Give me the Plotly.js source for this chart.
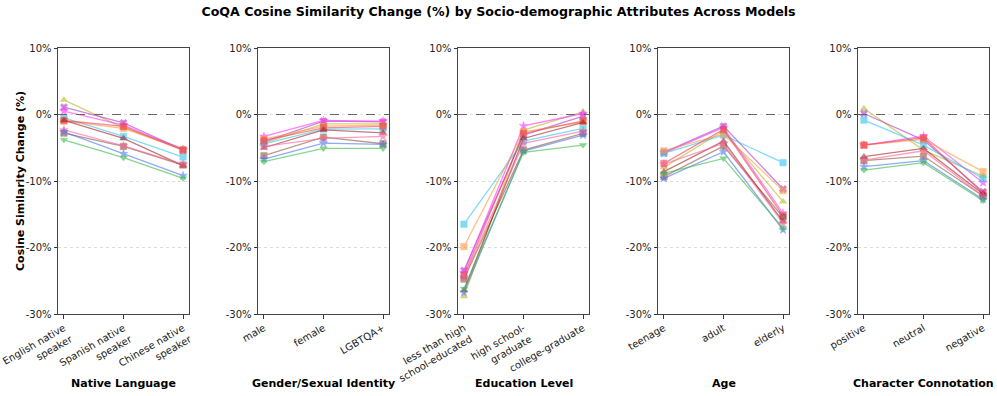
<!DOCTYPE html>
<html>
<head>
<meta charset="utf-8">
<script src="https://cdn.plot.ly/plotly-3.0.1.min.js"></script>
<style>
  html, body { margin: 0; padding: 0; background: #fff; }
  #chart { width: 997px; height: 396px; }
</style>
</head>
<body>
<div id="chart"></div>
<script>
// models (one line per model in every panel)
var models  = ['Model A', 'Model B', 'Model C', 'Model D', 'Model E', 'Model F',
               'Model G', 'Model H', 'Model I', 'Model J', 'Model K'];
var colors  = ['#b8b820', '#a838c8', '#ff30ff', '#30c4f0', '#ff9640', '#f04050',
               '#8c5a3c', '#a02020', '#ff5c9c', '#4a72ee', '#34bc44'];
var symbols = ['triangle-up', 'x', 'star', 'square', 'square', 'square',
               'square', 'triangle-up', 'star', 'star', 'triangle-down'];

// attribute groups
var groupTitles = ['Native Language', 'Gender/Sexual Identity', 'Education Level', 'Age', 'Character Connotation'];

var nativeCats = ['English native<br>speaker', 'Spanish native<br>speaker', 'Chinese native<br>speaker'];
var genderCats = ['male', 'female', 'LGBTQA+'];
var eduCats    = ['less than high<br>school-educated', 'high school-<br>graduate', 'college-graduate'];
var ageCats    = ['teenage', 'adult', 'elderly'];
var connCats   = ['positive', 'neutral', 'negative'];

// values (% change), one row per model
var nativeVals = [
  [2.2, -2.0, -5.1], [1.1, -1.25, -5.3], [0.5, -1.6, -5.3], [-0.5, -3.3, -6.4],
  [-1.0, -2.1, -5.3], [-0.9, -1.8, -5.4], [-2.8, -4.8, -7.6], [-0.9, -3.6, -7.7],
  [-2.3, -4.7, -7.5], [-2.6, -5.9, -9.2], [-3.8, -6.5, -9.6]
];
var genderVals = [
  [-4.3, -1.4, -1.4], [-4.1, -1.0, -1.1], [-3.3, -0.9, -1.0], [-4.4, -2.2, -2.15],
  [-3.7, -1.75, -1.6], [-3.9, -2.0, -1.8], [-6.2, -3.4, -4.4], [-5.0, -2.3, -2.75],
  [-4.8, -3.6, -3.3], [-6.7, -4.3, -4.5], [-7.1, -5.1, -5.1]
];
var eduVals = [
  [-27.35, -2.35, 0.4], [-23.45, -3.1, -0.25], [-23.75, -1.7, 0.15], [-16.5, -4.0, -2.1],
  [-19.85, -2.6, -1.1], [-24.25, -2.85, -0.95], [-24.75, -5.35, -2.85], [-26.45, -3.6, -1.2],
  [-24.5, -4.35, -2.5], [-26.75, -5.5, -3.1], [-26.2, -5.7, -4.6]
];
var ageVals = [
  [-7.95, -2.45, -13.1], [-5.7, -1.75, -11.2], [-5.8, -1.95, -14.85], [-5.85, -3.1, -7.25],
  [-5.45, -2.95, -11.45], [-7.35, -2.25, -15.25], [-9.35, -4.75, -15.45], [-8.6, -4.0, -16.1],
  [-7.45, -4.35, -16.35], [-9.6, -5.6, -17.35], [-8.85, -6.6, -17.1]
];
var connVals = [
  [0.9, -5.35, -9.25], [0.15, -3.85, -11.6], [-4.6, -3.25, -10.25], [-0.85, -4.6, -9.6],
  [-4.6, -3.75, -8.6], [-4.6, -3.5, -11.85], [-6.95, -6.25, -12.25], [-6.35, -5.1, -11.95],
  [-6.85, -5.45, -12.25], [-7.85, -6.95, -12.75], [-8.35, -7.25, -12.95]
];

var yTicks = [10, 0, -10, -20, -30];
var yTickText = ['10%', '0%', '-10%', '-20%', '-30%'];

var groups = [
  {cats: nativeCats, vals: nativeVals},
  {cats: genderCats, vals: genderVals},
  {cats: eduCats, vals: eduVals},
  {cats: ageCats, vals: ageVals},
  {cats: connCats, vals: connVals}
];

var W = 997, H = 396;
var leftPx = [58, 258, 458, 658, 858];
var panelW = 131;
var yDom = [1 - 314 / H, 1 - 48 / H];
var tickFont = {family: 'DejaVu Sans', size: 10, color: '#222'};

var traces = [];
var layout = {
  width: W, height: H,
  margin: {l: 0, r: 0, t: 0, b: 0},
  paper_bgcolor: '#fff', plot_bgcolor: '#fff',
  showlegend: false,
  font: {family: 'DejaVu Sans', size: 10, color: '#222'},
  title: {
    text: '<b>CoQA Cosine Similarity Change (%) by Socio-demographic Attributes Across Models</b>',
    font: {family: 'DejaVu Sans', size: 12.6, color: '#000'},
    x: 0.5, xanchor: 'center', y: 1 - 12 / H, yanchor: 'middle', yref: 'container'
  },
  shapes: [],
  annotations: []
};

groups.forEach(function (g, gi) {
  var n = gi + 1;
  var xa = gi === 0 ? 'x' : 'x' + n;
  var ya = gi === 0 ? 'y' : 'y' + n;
  var xkey = gi === 0 ? 'xaxis' : 'xaxis' + n;
  var ykey = gi === 0 ? 'yaxis' : 'yaxis' + n;

  models.forEach(function (m, mi) {
    traces.push({
      type: 'scatter',
      mode: 'lines+markers',
      x: g.cats,
      y: g.vals[mi],
      xaxis: xa, yaxis: ya,
      name: m,
      opacity: 0.6,
      line: {color: colors[mi], width: 1.3},
      marker: {color: colors[mi], symbol: symbols[mi], size: 6.5,
               line: {color: colors[mi], width: 0.5}}
    });
  });

  layout[xkey] = {
    domain: [leftPx[gi] / W, (leftPx[gi] + panelW) / W],
    anchor: ya,
    type: 'category',
    categoryorder: 'array', categoryarray: g.cats,
    range: [-0.1, 2.1],
    tickangle: -30,
    ticks: 'outside', ticklen: 3.5, tickcolor: '#333',
    showline: true, mirror: true, linecolor: '#444', linewidth: 1,
    showgrid: false, zeroline: false,
    tickfont: tickFont,
    fixedrange: true
  };
  layout[ykey] = {
    domain: yDom,
    anchor: xa,
    range: [-30, 10],
    tickvals: yTicks, ticktext: yTickText,
    ticks: 'outside', ticklen: 3.5, tickcolor: '#333',
    showline: true, mirror: true, linecolor: '#444', linewidth: 1,
    showgrid: true, gridcolor: '#dcdcdc', griddash: 'dot', gridwidth: 1,
    zeroline: false,
    tickfont: tickFont,
    fixedrange: true
  };

  // dashed reference line at 0
  layout.shapes.push({
    type: 'line', xref: xa + ' domain', yref: ya,
    x0: 0, x1: 1, y0: 0, y1: 0,
    line: {color: '#666', width: 1, dash: 'dash'}
  });

  // group label under each panel
  layout.annotations.push({
    text: '<b>' + groupTitles[gi] + '</b>',
    xref: 'paper', yref: 'paper',
    x: (leftPx[gi] + panelW / 2) / W, y: 1 - 383 / H,
    xanchor: 'center', yanchor: 'middle', showarrow: false,
    font: {family: 'DejaVu Sans', size: 11, color: '#000'}
  });
});

// y axis title on the first panel
layout.annotations.push({
  text: '<b>Cosine Similarity Change (%)</b>',
  xref: 'paper', yref: 'paper',
  x: 20 / W, y: 1 - 181 / H,
  xanchor: 'center', yanchor: 'middle', textangle: -90, showarrow: false,
  font: {family: 'DejaVu Sans', size: 11, color: '#000'}
});

Plotly.newPlot('chart', traces, layout, {displayModeBar: false, staticPlot: true});
</script>
</body>
</html>
